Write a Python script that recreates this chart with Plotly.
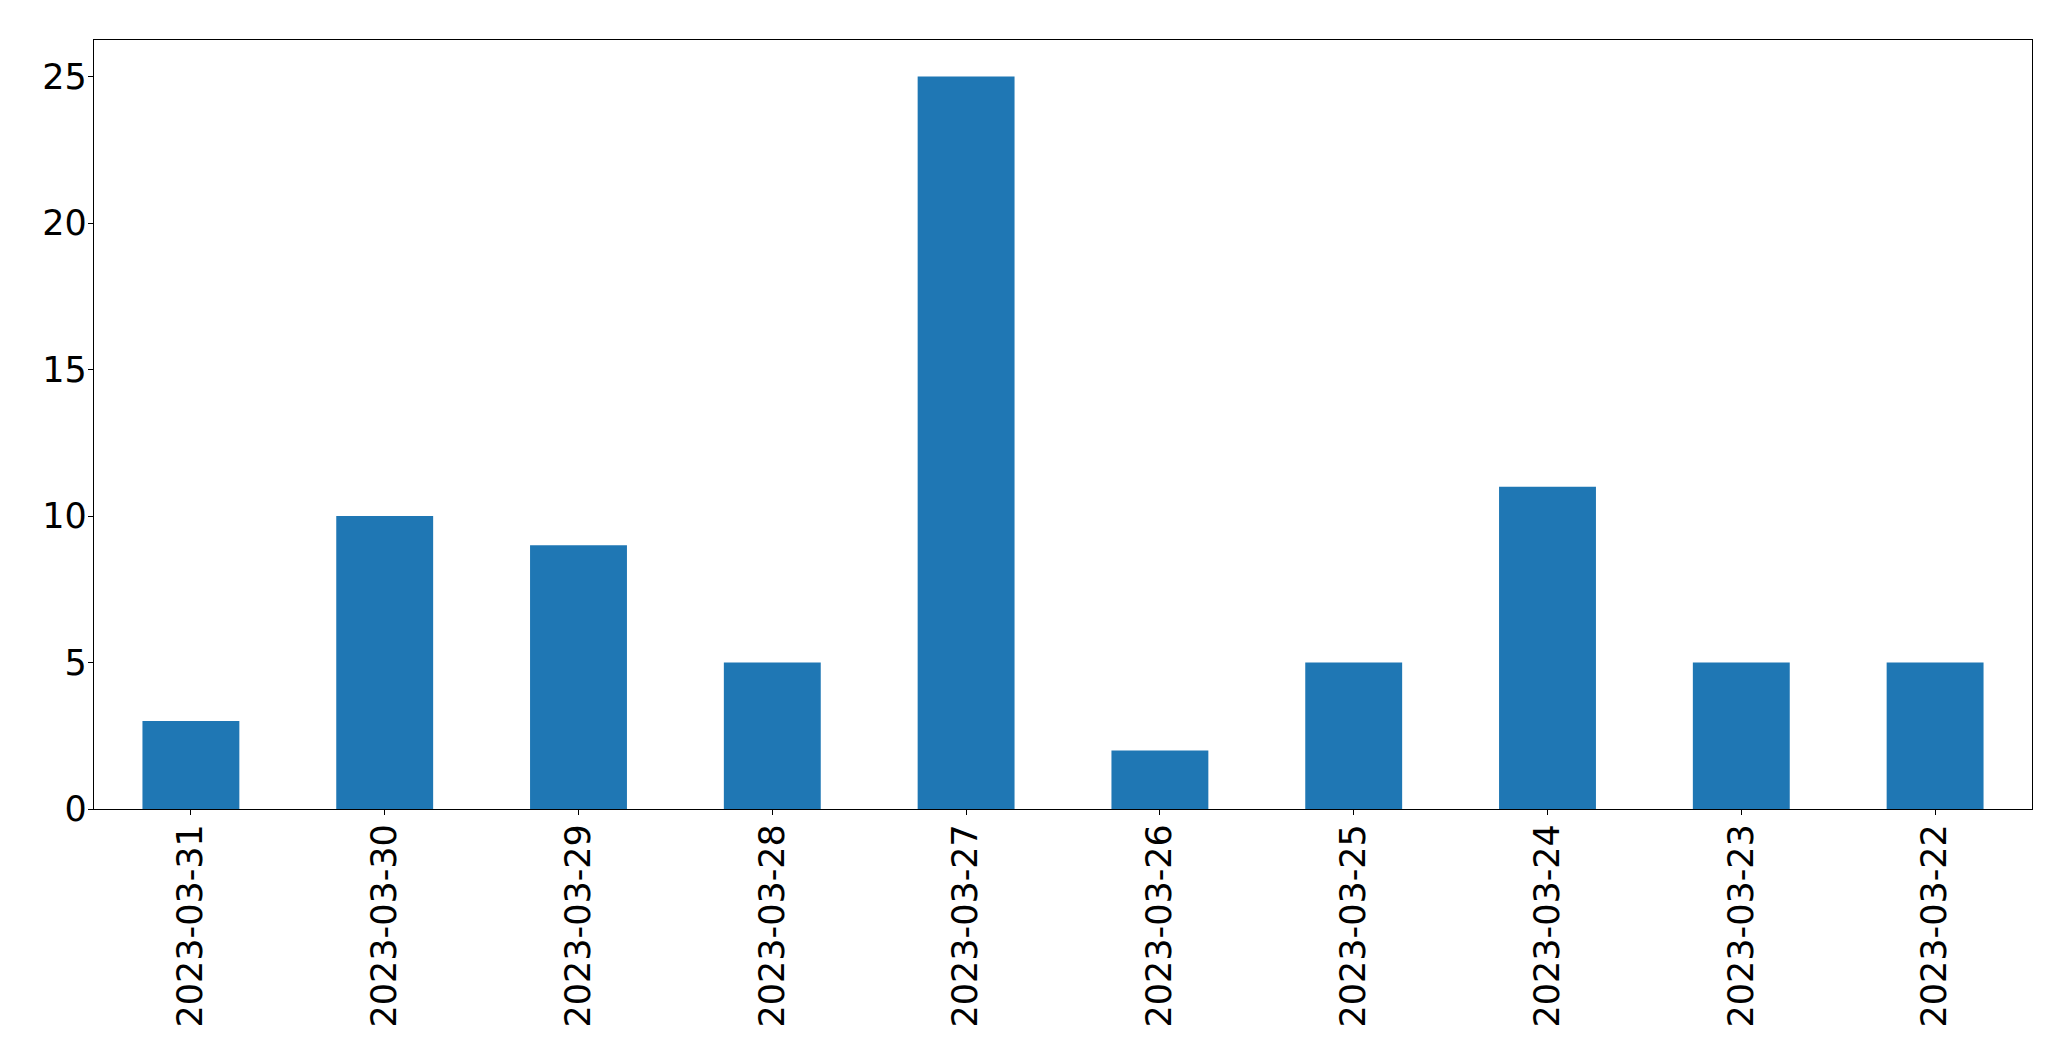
import plotly.graph_objects as go

dates = ["2023-03-31", "2023-03-30", "2023-03-29", "2023-03-28", "2023-03-27",
         "2023-03-26", "2023-03-25", "2023-03-24", "2023-03-23", "2023-03-22"]
counts = [3, 10, 9, 5, 25, 2, 5, 11, 5, 5]
y_ticks = [0, 5, 10, 15, 20, 25]

fig = go.Figure(go.Bar(x=list(range(len(dates))), y=counts, width=0.5,
                       marker=dict(color="#1f77b4", line=dict(width=0))))

font = dict(family="DejaVu Sans", size=35, color="black")
fig.update_layout(
    width=2063, height=1053,
    margin=dict(l=86, r=39, t=32, b=252, autoexpand=False),
    paper_bgcolor="white", plot_bgcolor="white",
    showlegend=False, font=font,
)
fig.update_xaxes(
    range=[-0.5, len(dates) - 0.5],
    tickmode="array", tickvals=list(range(len(dates))), ticktext=dates,
    tickangle=-90, ticks="outside", ticklen=5, tickwidth=1.3, tickcolor="black",
    ticklabelstandoff=-5,
    showline=True, linecolor="black", linewidth=1.3, mirror=True,
    showgrid=False, zeroline=False, tickfont=font,
)
fig.update_yaxes(
    range=[0, 26.25],
    tickmode="array", tickvals=y_ticks,
    ticks="outside", ticklen=5, tickwidth=1.3, tickcolor="black",
    ticklabelstandoff=-6,
    showline=True, linecolor="black", linewidth=1.3, mirror=True,
    showgrid=False, zeroline=False, tickfont=font,
)
fig.write_html("out.html")
